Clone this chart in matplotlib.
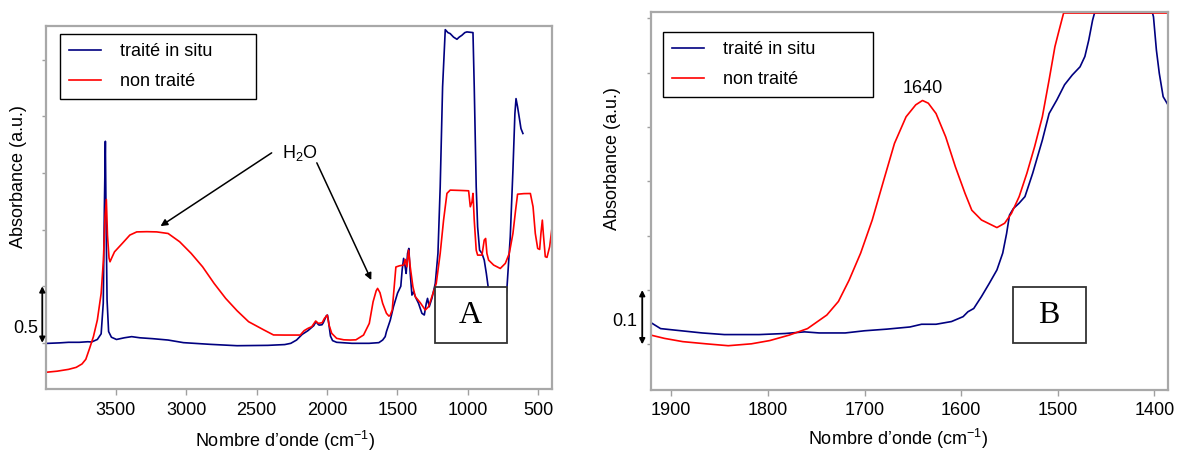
import matplotlib
matplotlib.use('Agg')
import matplotlib.pyplot as plt
from matplotlib.patches import Rectangle
from matplotlib.transforms import blended_transform_factory

plt.rcParams['font.family'] = ['Liberation Sans', 'DejaVu Sans']
plt.rcParams['mathtext.fontset'] = 'custom'
plt.rcParams['mathtext.rm'] = 'Liberation Sans'
plt.rcParams['mathtext.it'] = 'Liberation Sans:italic'
plt.rcParams['mathtext.bf'] = 'Liberation Sans:bold'

# ---- panel A : full spectrum (wavenumber cm-1, absorbance a.u.) ----
wnA_in_situ = [4000, 3900, 3837, 3760, 3700, 3673, 3632, 3605, 3590, 3582, 3575, 3570, 3563, 3552,
               3532, 3496, 3440, 3388, 3330, 3238, 3129, 3020, 2829, 2639, 2421, 2300, 2257, 2216,
               2176, 2135, 2094, 2078, 2060, 2053, 2035, 2026, 2004, 1996, 1990, 1975, 1960, 1931,
               1822, 1700, 1631, 1604, 1586, 1577, 1550, 1527, 1498, 1475, 1465, 1455, 1444, 1437,
               1427, 1418, 1408, 1396, 1384, 1372, 1349, 1325, 1308, 1294, 1285, 1273, 1254, 1230,
               1211, 1195, 1178, 1159, 1140, 1124, 1100, 1076, 1060, 1041, 1020, 1005, 962, 953,
               939, 929, 915, 898, 882, 867, 851, 827, 780, 744, 720, 697, 678, 664, 656, 645,
               630, 621, 607]
absA_in_situ = [0.495, 0.50, 0.505, 0.505, 0.51, 0.508, 0.53, 0.58, 0.85, 1.7, 2.28, 1.6, 0.88, 0.60,
                0.55, 0.53, 0.545, 0.555, 0.545, 0.537, 0.525, 0.502, 0.487, 0.475, 0.478, 0.485, 0.496, 0.525,
                0.575, 0.608, 0.652, 0.687, 0.66, 0.657, 0.66, 0.678, 0.740, 0.745, 0.70, 0.56, 0.52, 0.505,
                0.496, 0.496, 0.502, 0.525, 0.555, 0.60, 0.70, 0.82, 0.94, 1.0, 1.15, 1.246, 1.172, 1.113,
                1.290, 1.334, 1.113, 0.922, 0.951, 0.908, 0.849, 0.761, 0.746, 0.849, 0.893, 0.819, 0.893, 1.025,
                1.290, 1.878, 2.760, 3.266, 3.24, 3.231, 3.20, 3.181, 3.20, 3.216, 3.24, 3.246, 3.240, 2.760,
                1.878, 1.525, 1.319, 1.290, 1.231, 1.113, 0.966, 0.72, 0.62, 0.70, 0.996, 1.437, 2.025, 2.525, 2.657, 2.584,
                2.466, 2.393, 2.349]

wnA_non = [4000, 3918, 3837, 3782, 3741, 3714, 3687, 3660, 3632, 3605, 3589, 3578, 3568, 3560, 3549,
           3542, 3530, 3510, 3455, 3401, 3352, 3280, 3210, 3129, 3047, 2965, 2884, 2802, 2720, 2639,
           2557, 2448, 2380, 2300, 2190, 2162, 2135, 2108, 2080, 2061, 2034, 2018, 1998, 1985, 1966,
           1931, 1880, 1835, 1794, 1740, 1699, 1672, 1650, 1640, 1623, 1604, 1577, 1560, 1552, 1536,
           1525, 1510, 1484, 1455, 1444, 1432, 1420, 1408, 1389, 1372, 1337, 1301, 1278, 1254, 1223,
           1195, 1171, 1147, 1124, 1050, 993, 981, 969, 962, 953, 939, 929, 898, 882, 872, 863, 851,
           815, 768, 732, 704, 678, 659, 645, 600, 554, 535, 519, 502, 488, 479, 469, 462, 448, 436,
           417, 400]
absA_non = [0.24, 0.25, 0.266, 0.284, 0.314, 0.355, 0.452, 0.555, 0.702, 0.937, 1.23, 1.6, 1.767, 1.45, 1.25,
            1.216, 1.25, 1.304, 1.378, 1.452, 1.48, 1.482, 1.48, 1.466, 1.393, 1.290, 1.172, 1.025, 0.893, 0.784,
            0.687, 0.614, 0.57, 0.569, 0.569, 0.608, 0.628, 0.643, 0.693, 0.672, 0.678, 0.716, 0.745, 0.657, 0.584,
            0.540, 0.527, 0.525, 0.527, 0.569, 0.672, 0.863, 0.96, 0.981, 0.943, 0.849, 0.761, 0.737, 0.74, 0.790,
            0.95, 1.17, 1.181, 1.187, 1.237, 1.172, 1.319, 1.172, 0.996, 0.908, 0.855, 0.790, 0.819, 0.908, 1.025,
            1.290, 1.584, 1.820, 1.849, 1.846, 1.843, 1.702, 1.746, 1.820, 1.584, 1.319, 1.275, 1.275, 1.408, 1.422, 1.290, 1.231,
            1.187, 1.157, 1.202, 1.290, 1.466, 1.672, 1.813, 1.818, 1.819, 1.702, 1.466, 1.334, 1.325, 1.466, 1.584, 1.466, 1.261, 1.255,
            1.349, 1.519]

# ---- panel B : zoom on 1900-1400 cm-1 ----
wnB_in_situ = [1921, 1911, 1895, 1868, 1845, 1809, 1782, 1762, 1747, 1720, 1700, 1677, 1653, 1641, 1626,
               1610, 1598, 1593, 1587, 1579, 1571, 1563, 1557, 1553, 1550, 1546, 1540, 1534, 1526, 1516,
               1509, 1501, 1493, 1485, 1477, 1472, 1468, 1464, 1462, 1402, 1401, 1398, 1395, 1391, 1386]
absB_in_situ = [0.140, 0.129, 0.126, 0.121, 0.118, 0.118, 0.120, 0.123, 0.121, 0.121, 0.125, 0.128, 0.132, 0.137, 0.137,
                0.142, 0.151, 0.160, 0.166, 0.188, 0.212, 0.237, 0.268, 0.304, 0.338, 0.350, 0.360, 0.372, 0.415, 0.476,
                0.525, 0.550, 0.578, 0.596, 0.611, 0.630, 0.660, 0.697, 0.710, 0.710, 0.703, 0.642, 0.599, 0.556, 0.541]

wnB_non = [1921, 1907, 1888, 1864, 1841, 1817, 1798, 1778, 1759, 1739, 1727, 1716, 1704, 1692, 1680,
           1669, 1657, 1647, 1640, 1634, 1626, 1616, 1606, 1596, 1589, 1579, 1571, 1563, 1555, 1548,
           1540, 1532, 1524, 1516, 1509, 1503, 1499, 1494, 1386]
absB_non = [0.117, 0.111, 0.105, 0.101, 0.0975, 0.101, 0.107, 0.117, 0.129, 0.154, 0.179, 0.218, 0.268, 0.329, 0.403,
            0.470, 0.519, 0.541, 0.549, 0.544, 0.525, 0.482, 0.427, 0.378, 0.347, 0.329, 0.322, 0.315, 0.323, 0.341,
            0.372, 0.415, 0.464, 0.519, 0.587, 0.648, 0.676, 0.710, 0.710]

labels = ['traité in situ', 'non traité']
colors = ['#000080', '#ff0000']
FS = 13

fig = plt.figure(figsize=(11.9, 4.51), dpi=100)
axA = fig.add_axes([0.0383, 0.1368, 0.4256, 0.806])
axB = fig.add_axes([0.547, 0.1353, 0.4345, 0.8388])


def style(ax, xlim, ylim, xticks, yticks):
    ax.set_xlim(*xlim)
    ax.set_ylim(*ylim)
    ax.set_xticks(xticks)
    ax.set_yticks(yticks)
    ax.tick_params(axis='x', direction='out', length=4, width=1, color='#a0a0a0', labelsize=FS, pad=5)
    ax.tick_params(axis='y', direction='out', length=3, width=1, color='#a0a0a0', labelleft=False)
    for s in ax.spines.values():
        s.set_color('#a8a8a8')
        s.set_linewidth(1.6)


def scale_bar(ax, x, y0, y1, xt, yt, txt):
    ax.annotate('', xy=(x, y1), xytext=(x, y0), xycoords=('axes fraction', 'data'),
                arrowprops=dict(arrowstyle='<|-|>', color='black', lw=1.3, mutation_scale=8,
                                shrinkA=0, shrinkB=0), annotation_clip=False)
    tr = blended_transform_factory(ax.transAxes, ax.transData)
    ax.text(xt, yt, txt, transform=tr, ha='right', va='center', fontsize=FS)


def letter_box(ax, x0, y0, w, h, txt):
    ax.add_patch(Rectangle((x0, y0), w, h, transform=ax.transAxes, facecolor='white',
                           edgecolor='#333333', lw=1.3, zorder=5))
    ax.text(x0 + w / 2, y0 + h / 2, txt, transform=ax.transAxes, ha='center', va='center',
            fontsize=23, family='Liberation Serif', zorder=6)


def legend(ax, x, y, w, h):
    leg = ax.legend(loc='upper left', bbox_to_anchor=(x, y - h, w, h), mode='expand',
                    borderaxespad=0, frameon=True, fancybox=False, edgecolor='black',
                    framealpha=1, fontsize=FS, handlelength=1.8, handletextpad=1.0,
                    labelspacing=0.72, borderpad=0.5)
    leg.get_frame().set_linewidth(1.0)


# panel A
axA.plot(wnA_in_situ, absA_in_situ, color=colors[0], lw=1.2, label=labels[0])
axA.plot(wnA_non, absA_non, color=colors[1], lw=1.2, label=labels[1])
style(axA, (4000, 400), (0.09, 3.30), [3500, 3000, 2500, 2000, 1500, 1000, 500],
      [0.5, 1.0, 1.5, 2.0, 2.5, 3.0])
legend(axA, 0.0284, 0.977, 0.387, 0.176)
axA.set_ylabel('Absorbance (a.u.)', fontsize=FS)
axA.yaxis.set_label_coords(-0.037, 0.584)
axA.set_xlabel('Nombre d’onde (cm$^{-1}$)', fontsize=FS)
axA.xaxis.set_label_coords(0.473, -0.108)
scale_bar(axA, -0.0065, 0.5, 1.0, -0.0144, 0.631, '0.5')
letter_box(axA, 0.768, 0.1265, 0.143, 0.1555, 'A')
axA.text(2195, 2.178, 'H$_2$O', ha='center', va='center', fontsize=FS)
for tail, head in [((2393, 2.178), (3183, 1.531)), ((2072, 2.09), (1685, 1.055))]:
    axA.annotate('', xy=head, xytext=tail,
                 arrowprops=dict(arrowstyle='-|>', color='black', lw=1.1, mutation_scale=10,
                                 shrinkA=0, shrinkB=0))

# panel B
axB.plot(wnB_in_situ, absB_in_situ, color=colors[0], lw=1.2, label=labels[0])
axB.plot(wnB_non, absB_non, color=colors[1], lw=1.2, label=labels[1])
style(axB, (1921, 1386), (0.016, 0.7125), [1900, 1800, 1700, 1600, 1500, 1400],
      [0.1, 0.2, 0.3, 0.4, 0.5, 0.6, 0.7])
legend(axB, 0.0232, 0.946, 0.406, 0.177)
axB.set_ylabel('Absorbance (a.u.)', fontsize=FS)
axB.yaxis.set_label_coords(-0.057, 0.611)
axB.set_xlabel('Nombre d’onde (cm$^{-1}$)', fontsize=FS)
axB.xaxis.set_label_coords(0.478, -0.098)
scale_bar(axB, -0.0168, 0.1, 0.2, -0.027, 0.1416, '0.1')
letter_box(axB, 0.6996, 0.1234, 0.141, 0.1496, 'B')
axB.text(1640, 0.571, '1640', ha='center', va='center', fontsize=FS)

fig.savefig('out.png', dpi=100)
